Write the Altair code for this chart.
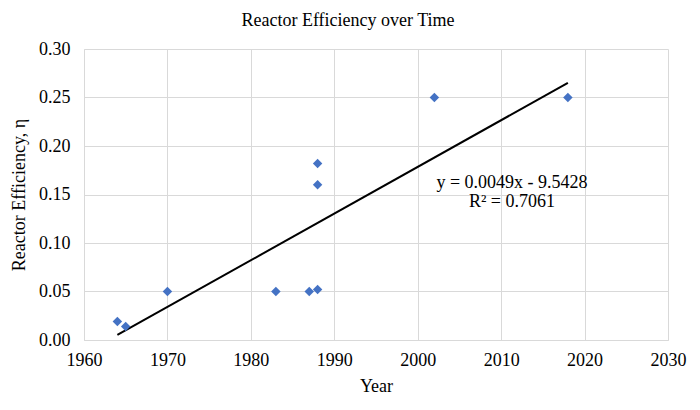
import altair as alt
import pandas as pd

years = [1964, 1965, 1970, 1983, 1987, 1988, 1988, 1988, 2002, 2018]
efficiency = [0.019, 0.014, 0.05, 0.05, 0.05, 0.052, 0.16, 0.182, 0.25, 0.25]

x_ticks = [1960, 1970, 1980, 1990, 2000, 2010, 2020, 2030]
y_ticks = [0.0, 0.05, 0.10, 0.15, 0.20, 0.25, 0.30]

eq_lines = ["y = 0.0049x - 9.5428", "R² = 0.7061"]
eq_x = [2011.3, 2011.3]
eq_y = [0.162, 0.1425]

df = pd.DataFrame({"Year": years, "Eff": efficiency})
ann = pd.DataFrame({"label": eq_lines, "Year": eq_x, "Eff": eq_y})

FONT = "Liberation Serif"

xscale = alt.Scale(domain=[1960, 2030], nice=False, zero=False)
yscale = alt.Scale(domain=[0, 0.30], nice=False)

xenc = alt.X("Year:Q", scale=xscale,
             axis=alt.Axis(values=x_ticks, format="d", title="Year",
                           grid=True, gridColor="#d9d9d9", domainColor="#d9d9d9",
                           ticks=False, labelPadding=11, titlePadding=8,
                           labelFlush=False, labelOverlap=False))
yenc = alt.Y("Eff:Q", scale=yscale,
             axis=alt.Axis(values=y_ticks, format=".2f", title="Reactor Efficiency, η",
                           grid=True, gridColor="#d9d9d9", domainColor="#d9d9d9",
                           ticks=False, labelPadding=14, titlePadding=10,
                           labelFlush=False, labelOverlap=False))

points = alt.Chart(df).mark_point(shape="diamond", filled=True, size=90,
                                  color="#4472C4", opacity=1).encode(x=xenc, y=yenc)

trend = alt.Chart(df).transform_regression("Year", "Eff").mark_line(
    color="black", strokeWidth=2).encode(x="Year:Q", y="Eff:Q")

text = alt.Chart(ann).mark_text(font=FONT, fontSize=18, color="black",
                                align="center", baseline="middle").encode(
    x="Year:Q", y="Eff:Q", text="label:N")

chart = alt.layer(trend, points, text).properties(
    width=584, height=291,
    title=alt.TitleParams("Reactor Efficiency over Time", font=FONT, fontSize=18,
                          fontWeight="normal", color="black", anchor="middle",
                          dx=-28, offset=10),
    autosize=alt.AutoSizeParams(type="none"),
    padding={"left": 76, "top": 41, "right": 20, "bottom": 55},
).configure(background="white").configure_view(stroke=None).configure_axis(
    labelFont=FONT, titleFont=FONT, labelFontSize=18, titleFontSize=18,
    titleFontWeight="normal", labelColor="black", titleColor="black")

chart.save("out.html", embed_options={"renderer": "svg", "actions": False})
